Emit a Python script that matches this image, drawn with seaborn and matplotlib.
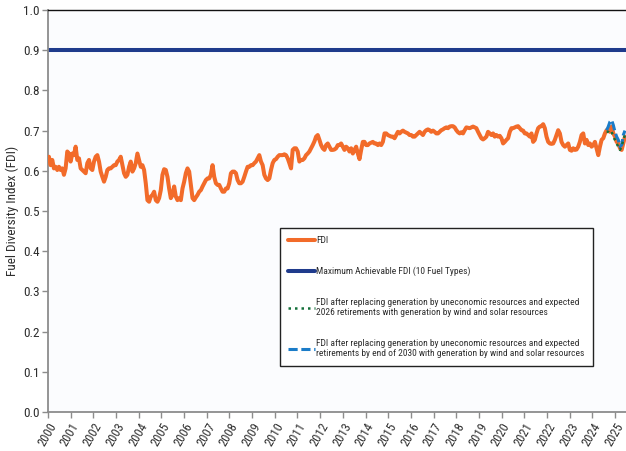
import numpy as np
import pandas as pd
import matplotlib
matplotlib.use("Agg")
import matplotlib.pyplot as plt
import seaborn as sns

# ---------------- data ----------------
fdi = [
    # 2000 - mid 2006
    0.635, 0.614, 0.627, 0.606, 0.610, 0.602, 0.610, 0.602, 0.606, 0.590,
    0.606, 0.648, 0.643, 0.623, 0.643, 0.639, 0.660, 0.627, 0.631, 0.606,
    0.602, 0.598, 0.594, 0.619, 0.627, 0.606, 0.602, 0.623, 0.635, 0.639,
    0.623, 0.598, 0.585, 0.573, 0.585, 0.602, 0.606, 0.606, 0.610, 0.614,
    0.614, 0.623, 0.627, 0.635, 0.614, 0.594, 0.585, 0.590, 0.610, 0.623,
    0.598, 0.606, 0.619, 0.643, 0.627, 0.610, 0.614, 0.602, 0.569, 0.527,
    0.523, 0.536, 0.540, 0.548, 0.527, 0.523, 0.532, 0.552, 0.590, 0.604,
    0.602, 0.585, 0.556, 0.532, 0.540, 0.561, 0.536, 0.527, 0.532, 0.527,
    0.556, 0.573, 0.594, 0.606, 0.598, 0.565, 0.532, 0.527,
    # mid 2006 - end 2012
    0.534, 0.540, 0.548, 0.552, 0.561, 0.569, 0.577, 0.581, 0.581, 0.590,
    0.614, 0.585, 0.569, 0.565, 0.565, 0.556, 0.548, 0.548, 0.556, 0.556,
    0.569, 0.594, 0.598, 0.598, 0.594, 0.577, 0.569, 0.569, 0.573, 0.585,
    0.598, 0.610, 0.610, 0.614, 0.614, 0.619, 0.623, 0.631, 0.639, 0.623,
    0.614, 0.590, 0.581, 0.577, 0.581, 0.602, 0.619, 0.627, 0.629, 0.635,
    0.639, 0.639, 0.639, 0.641, 0.639, 0.631, 0.619, 0.606, 0.652, 0.656,
    0.656, 0.648, 0.623, 0.627, 0.627, 0.631, 0.639, 0.643, 0.648, 0.656,
    0.664, 0.673, 0.685, 0.689, 0.677, 0.664, 0.656, 0.652, 0.664, 0.668,
    0.660, 0.652, 0.652, 0.653, 0.656, 0.664, 0.664, 0.668,
    # 2013 - early 2019
    0.660, 0.652, 0.660, 0.656, 0.648, 0.656, 0.643, 0.652, 0.660, 0.643,
    0.629, 0.652, 0.672, 0.672, 0.664, 0.664, 0.668, 0.670, 0.672, 0.668,
    0.668, 0.664, 0.668, 0.664, 0.672, 0.693, 0.693, 0.689, 0.687, 0.685,
    0.685, 0.681, 0.689, 0.697, 0.693, 0.697, 0.700, 0.697, 0.695, 0.693,
    0.689, 0.689, 0.685, 0.685, 0.689, 0.693, 0.697, 0.693, 0.689, 0.697,
    0.701, 0.703, 0.701, 0.697, 0.700, 0.697, 0.693, 0.693, 0.697, 0.701,
    0.703, 0.706, 0.708, 0.706, 0.710, 0.711, 0.711, 0.708, 0.701, 0.696,
    0.693, 0.696, 0.693, 0.701, 0.708, 0.707, 0.706, 0.708, 0.710, 0.708,
    0.706, 0.697, 0.689, 0.681, 0.678, 0.681, 0.685,
    # 2019 - 2025
    0.697, 0.693, 0.689, 0.693, 0.685, 0.689, 0.685, 0.687, 0.681, 0.668,
    0.672, 0.677, 0.681, 0.697, 0.706, 0.706, 0.708, 0.710, 0.711, 0.706,
    0.701, 0.700, 0.693, 0.693, 0.689, 0.685, 0.693, 0.672, 0.677, 0.693,
    0.706, 0.710, 0.711, 0.716, 0.706, 0.685, 0.672, 0.668, 0.667, 0.668,
    0.677, 0.689, 0.701, 0.693, 0.672, 0.664, 0.660, 0.664, 0.668, 0.652,
    0.650, 0.656, 0.652, 0.653, 0.660, 0.672, 0.689, 0.693, 0.668, 0.677,
    0.664, 0.668, 0.660, 0.664, 0.672, 0.656, 0.639, 0.660, 0.677, 0.681,
    0.693, 0.701, 0.703, 0.697, 0.710, 0.693, 0.685, 0.672, 0.668, 0.656,
    0.652, 0.668, 0.685,
]

# projections over the last months of the series
fdi_2026 = [0.697, 0.697, 0.693, 0.697, 0.685, 0.677, 0.668, 0.660, 0.652, 0.660, 0.677, 0.689]
fdi_2030 = [0.701, 0.710, 0.722, 0.726, 0.714, 0.697, 0.685, 0.677, 0.660, 0.664, 0.689, 0.700]

max_fdi = 0.9
first_year, last_year = 2000.04, 2025.44
tick_years = list(range(2000, 2026))
y_ticks = [0.0, 0.1, 0.2, 0.3, 0.4, 0.5, 0.6, 0.7, 0.8, 0.9, 1.0]

labels = [
    "FDI",
    "Maximum Achievable FDI (10 Fuel Types)",
    "FDI after replacing generation by uneconomic resources and expected\n"
    "2026 retirements with generation by wind and solar resources",
    "FDI after replacing generation by uneconomic resources and expected\n"
    "retirements by end of 2030 with generation by wind and solar resources",
]

# ---------------- frames ----------------
year = np.linspace(first_year, last_year, len(fdi))
df = pd.DataFrame({"year": year, "fdi": fdi})
df26 = pd.DataFrame({"year": year[-len(fdi_2026):], "fdi": fdi_2026})
df30 = pd.DataFrame({"year": year[-len(fdi_2030):], "fdi": fdi_2030})

# ---------------- style ----------------
sns.set_style("white")
narrow = ["Roboto Condensed", "Liberation Sans", "DejaVu Sans"]
plt.rcParams["font.family"] = narrow

ORANGE = "#F26B2A"
NAVY = "#1F3B8C"
BLUE = "#1B7CC8"
GREEN = "#14703A"
GREY = "#8C8C8C"
TXT = "#2E2E2E"

fig = plt.figure(figsize=(6.26, 4.51), dpi=100)
ax = fig.add_axes([0.0767, 0.0865, 0.9233, 0.8913])
ax.set_facecolor("#FBFCFE")

sns.lineplot(data=df, x="year", y="fdi", ax=ax, color=ORANGE, linewidth=2.9,
             label=labels[0], zorder=3)
ax.axhline(max_fdi, color=NAVY, linewidth=2.9, label=labels[1], zorder=2)
sns.lineplot(data=df30, x="year", y="fdi", ax=ax, color=BLUE, linewidth=2.2,
             linestyle=(0, (3, 1.2)), label=labels[3], zorder=4)
sns.lineplot(data=df26, x="year", y="fdi", ax=ax, color=GREEN, linewidth=1.8,
             linestyle=(0, (1, 1.6)), label=labels[2], zorder=5)

ax.set_xlim(2000, 2025.485)
ax.set_ylim(0, 1.0)
ax.set_xticks(tick_years)
ax.set_xticklabels([str(t) for t in tick_years], rotation=60, ha="right",
                   rotation_mode="anchor", fontsize=9, color=TXT)
ax.set_yticks(y_ticks)
ax.set_yticklabels([f"{v:.1f}" for v in y_ticks], fontsize=9.5, color=TXT)
ax.set_xlabel("")
ax.set_ylabel("Fuel Diversity Index (FDI)", fontsize=9.5, color=TXT, labelpad=3)

ax.tick_params(axis="both", which="major", direction="out", length=4, width=1,
               color=GREY, pad=2, left=True, bottom=True)
for s in ["left", "bottom"]:
    ax.spines[s].set_color(GREY)
    ax.spines[s].set_linewidth(1.3)
ax.spines["top"].set_color("#111111")
ax.spines["top"].set_linewidth(1.0)
ax.spines["right"].set_visible(False)

handles, labs = ax.get_legend_handles_labels()
order = [labs.index(l) for l in labels]
leg = ax.legend([handles[i] for i in order], [labs[i] for i in order],
                loc="upper left", bbox_to_anchor=(0.401, 0.458),
                fontsize=6.8, frameon=True, fancybox=False, framealpha=1,
                edgecolor="#222222", handlelength=2.9, handletextpad=0.1,
                labelspacing=2.3, borderpad=0.85, borderaxespad=0)
leg.get_frame().set_linewidth(1.0)
for t in leg.get_texts():
    t.set_color(TXT)

fig.savefig("out.png", dpi=100, facecolor="white")
